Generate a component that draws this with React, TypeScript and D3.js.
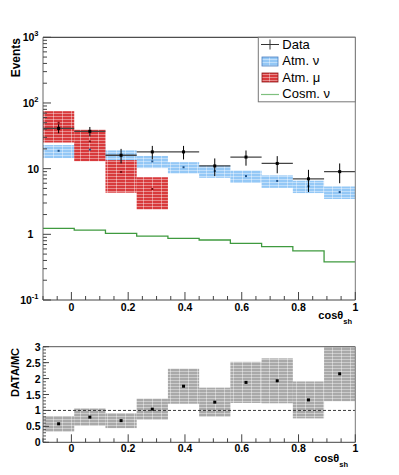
import React from "react";
import * as d3 from "d3";

// cos(theta_sh) bins
const binEdges = [-0.1, 0.01, 0.12, 0.23, 0.34, 0.45, 0.56, 0.67, 0.78, 0.89, 1.0];
const dataCounts = [41, 37, 16, 18, 18, 11, 15, 12, 7, 9];
const dataErr = [6.4, 6.1, 4.0, 4.2, 4.2, 3.3, 3.9, 3.5, 2.6, 3.0];
const atmNu = [18.7, 19.5, 16, 12.9, 10.5, 9.2, 7.7, 6.5, 5.4, 4.4];
const atmNuErr = [4.2, 4.3, 2.95, 2.7, 2.05, 1.95, 1.65, 1.4, 1.15, 0.95];
const atmMu = [50, 26, 8.9, 4.9, 0, 0, 0, 0, 0, 0];
const atmMuErr = [25, 13, 4.6, 2.5, 0, 0, 0, 0, 0, 0];
const cosmNu = [1.23, 1.16, 1.035, 0.94, 0.87, 0.82, 0.73, 0.65, 0.56, 0.38];
const ratio = [0.58, 0.79, 0.68, 1.04, 1.76, 1.26, 1.88, 1.93, 1.33, 2.15];
const ratioErr = [0.245, 0.27, 0.235, 0.33, 0.55, 0.455, 0.645, 0.705, 0.58, 0.86];

const logTicks = [0.1, 1, 10, 100, 1000];
const logTickLabels = [["10", "-1"], ["1", ""], ["10", ""], ["10", "2"], ["10", "3"]];
const xTicks = [0, 0.2, 0.4, 0.6, 0.8, 1];
const xTickLabels = ["0", "0.2", "0.4", "0.6", "0.8", "1"];
const ratioTicks = [0, 0.5, 1, 1.5, 2, 2.5, 3];
const ratioTickLabels = ["0", "0.5", "1", "1.5", "2", "2.5", "3"];
const legendLabels = ["Data", "Atm. \u03bd", "Atm. \u03bc", "Cosm. \u03bd"];

const FONT = "'Liberation Sans', Arial, Helvetica, sans-serif";
const L = 43, R = 355.3;
const TOP = { t: 37.3, b: 300 };
const BOT = { t: 346.7, b: 442.3 };

export default function App() {
  const x = d3.scaleLinear().domain([-0.1, 1]).range([L, R]);
  const y = d3.scaleLog().domain([0.1, 1000]).range([TOP.b, TOP.t]);
  const yr = d3.scaleLinear().domain([0, 3]).range([BOT.b, BOT.t]);
  const bins = d3.range(binEdges.length - 1);
  const center = (i: number) => (binEdges[i] + binEdges[i + 1]) / 2;

  // log minor ticks
  const logMinor: number[] = [];
  [0.1, 1, 10, 100].forEach((d) => {
    for (let k = 2; k <= 9; k++) logMinor.push(d * k);
  });
  const xMinor = d3.range(-0.1, 1.0001, 0.05).map((v) => +v.toFixed(2));
  const rMinor = d3.range(0, 3.0001, 0.1).map((v) => +v.toFixed(1));

  const cosmPts: [number, number][] = bins.map((i) => [binEdges[i], cosmNu[i]]);
  cosmPts.push([binEdges[binEdges.length - 1], cosmNu[cosmNu.length - 1]]);
  const stepLine = d3
    .line<[number, number]>()
    .x((d) => x(d[0]))
    .y((d) => y(d[1]))
    .curve(d3.curveStepAfter);

  const box = (i: number, v: number, e: number, scale: any, fill: string, key: string) => {
    const lo = Math.max(v - e, 1e-3);
    const hi = v + e;
    return (
      <rect
        key={key}
        x={x(binEdges[i])}
        width={x(binEdges[i + 1]) - x(binEdges[i])}
        y={scale(hi)}
        height={scale(lo) - scale(hi)}
        fill={fill}
      />
    );
  };

  const xAxis = (yb: number, labelY: number) => (
    <g>
      {xMinor.map((v) => {
        const major = xTicks.some((t) => Math.abs(t - v) < 1e-6);
        const len = major ? 8 : 4;
        return <line key={v} x1={x(v)} x2={x(v)} y1={yb} y2={yb - len} stroke="#444" strokeWidth={1} />;
      })}
      {xTicks.map((v, i) => (
        <text key={v} x={x(v)} y={labelY} textAnchor="middle" fontSize={10.5} fontWeight="bold" fontFamily={FONT}>
          {xTickLabels[i]}
        </text>
      ))}
    </g>
  );

  const Pattern = ({ id, color }: { id: string; color: string }) => (
    <pattern id={id} width={9} height={3} patternUnits="userSpaceOnUse">
      <rect width={9} height={3} fill={color} />
      <rect y={2} width={9} height={0.8} fill="#fff" opacity={0.5} />
      <rect x={8} width={0.8} height={3} fill="#fff" opacity={0.5} />
    </pattern>
  );

  const axisTitle = (xr: number, yb: number) => (
    <text x={xr} y={yb} textAnchor="end" fontSize={11} fontWeight="bold" fontFamily={FONT}>
      cos{"\u03b8"}
      <tspan fontSize={7.5} dy={5}>sh</tspan>
    </text>
  );

  return (
    <svg width={399} height={475} style={{ position: "absolute", left: 0, top: 0 }}>
      <defs>
        <Pattern id="pBlue" color="#94c8f6" />
        <Pattern id="pRed" color="#d83a3c" />
        <Pattern id="pGray" color="#a9a9a9" />
        <clipPath id="clipTop">
          <rect x={L} y={TOP.t} width={R - L} height={TOP.b - TOP.t} />
        </clipPath>
        <clipPath id="clipBot">
          <rect x={L} y={BOT.t} width={R - L} height={BOT.b - BOT.t} />
        </clipPath>
      </defs>
      <rect width={399} height={475} fill="#fff" />

      {/* ---------- top panel ---------- */}
      <g clipPath="url(#clipTop)">
        {bins.map((i) => box(i, atmNu[i], atmNuErr[i], y, "url(#pBlue)", "nb" + i))}
        {bins.filter((i) => atmMu[i] > 0).map((i) => box(i, atmMu[i], atmMuErr[i], y, "url(#pRed)", "mb" + i))}
        {bins.map((i) => (
          <rect key={"nd" + i} x={x(center(i)) - 1} y={y(atmNu[i]) - 1} width={2} height={2} fill="#1d4f86" />
        ))}
        {bins.filter((i) => atmMu[i] > 0).map((i) => (
          <rect key={"md" + i} x={x(center(i)) - 1} y={y(atmMu[i]) - 1} width={2} height={2} fill="#7a0e10" />
        ))}
        <path d={stepLine(cosmPts) || ""} fill="none" stroke="#3f9a3f" strokeWidth={1.3} />
        {bins.map((i) => (
          <g key={"d" + i}>
            <line x1={x(binEdges[i])} x2={x(binEdges[i + 1])} y1={y(dataCounts[i])} y2={y(dataCounts[i])} stroke="#444" strokeWidth={1.3} />
            <line x1={x(center(i))} x2={x(center(i))} y1={y(dataCounts[i] - dataErr[i])} y2={y(dataCounts[i] + dataErr[i])} stroke="#000" strokeWidth={1} />
            <rect x={x(center(i)) - 1.5} y={y(dataCounts[i]) - 1.5} width={3} height={3} fill="#000" />
          </g>
        ))}
      </g>
      {/* frame */}
      <line x1={L} x2={R} y1={TOP.t} y2={TOP.t} stroke="#222" />
      <line x1={R} x2={R} y1={TOP.t} y2={TOP.b} stroke="#777" />
      <line x1={L} x2={L} y1={TOP.t} y2={TOP.b} stroke="#666" />
      <line x1={L} x2={R} y1={TOP.b} y2={TOP.b} stroke="#444" />
      {logMinor.map((v) => (
        <line key={v} x1={L} x2={L + 4} y1={y(v)} y2={y(v)} stroke="#444" />
      ))}
      {logTicks.map((v, i) => (
        <g key={v}>
          <line x1={L} x2={L + 8} y1={y(v)} y2={y(v)} stroke="#444" />
          {logTickLabels[i][1] ? (
            <text x={38.5} y={y(v) + 4} textAnchor="end" fontSize={10.5} fontWeight="bold" fontFamily={FONT}>
              {logTickLabels[i][0]}
              <tspan fontSize={7.5} dy={-5}>{logTickLabels[i][1]}</tspan>
            </text>
          ) : (
            <text x={27.5} y={y(v) + 4} textAnchor="start" fontSize={10.5} fontWeight="bold" fontFamily={FONT}>
              {logTickLabels[i][0]}
            </text>
          )}
        </g>
      ))}
      {xAxis(TOP.b, 311)}
      <text transform={`translate(20,38) rotate(-90)`} textAnchor="end" fontSize={12} fontWeight="bold" fontFamily={FONT}>
        Events
      </text>
      {axisTitle(352, 318.5)}

      {/* legend */}
      <rect x={258.3} y={37.3} width={R - 258.3} height={64.5} fill="#fff" stroke="#777" />
      <line x1={261} x2={279} y1={44.5} y2={44.5} stroke="#333" />
      <line x1={270} x2={270} y1={39.5} y2={49.5} stroke="#333" />
      <rect x={262} y={57} width={16} height={9} fill="url(#pBlue)" stroke="#4b7fc0" strokeWidth={0.8} />
      <rect x={262} y={73} width={16} height={9} fill="url(#pRed)" stroke="#8e1c1c" strokeWidth={0.8} />
      <line x1={261} x2={279} y1={94.5} y2={94.5} stroke="#7fc07f" strokeWidth={1.2} />
      {legendLabels.map((s, i) => (
        <text key={s} x={282.3} y={48.5 + i * 16.5} fontSize={13} fontFamily={FONT} fill="#000">
          {s}
        </text>
      ))}

      {/* ---------- ratio panel ---------- */}
      <g clipPath="url(#clipBot)">
        {bins.map((i) => box(i, ratio[i], ratioErr[i], yr, "url(#pGray)", "rb" + i))}
        <line x1={L} x2={R} y1={yr(1)} y2={yr(1)} stroke="#222" strokeDasharray="3,2" strokeWidth={0.9} />
        {bins.map((i) => (
          <rect key={"rd" + i} x={x(center(i)) - 1.5} y={yr(ratio[i]) - 1.5} width={3} height={3} fill="#000" />
        ))}
      </g>
      <line x1={L} x2={R} y1={BOT.t} y2={BOT.t} stroke="#555" />
      <line x1={R} x2={R} y1={BOT.t} y2={BOT.b} stroke="#777" />
      <line x1={L} x2={L} y1={BOT.t} y2={BOT.b} stroke="#666" />
      <line x1={L} x2={R} y1={BOT.b} y2={BOT.b} stroke="#444" />
      {rMinor.map((v) => (
        <line key={v} x1={L} x2={L + 3} y1={yr(v)} y2={yr(v)} stroke="#555" />
      ))}
      {ratioTicks.map((v, i) => (
        <g key={v}>
          <line x1={L} x2={L + 6} y1={yr(v)} y2={yr(v)} stroke="#444" />
          <text x={40.5} y={yr(v) + 4} textAnchor="end" fontSize={10.5} fontWeight="bold" fontFamily={FONT}>
            {ratioTickLabels[i]}
          </text>
        </g>
      ))}
      {xAxis(BOT.b, 452)}
      <text transform={`translate(18.5,348) rotate(-90)`} textAnchor="end" fontSize={11} fontWeight="bold" fontFamily={FONT}>
        DATA/MC
      </text>
      {axisTitle(348, 461.5)}
    </svg>
  );
}
